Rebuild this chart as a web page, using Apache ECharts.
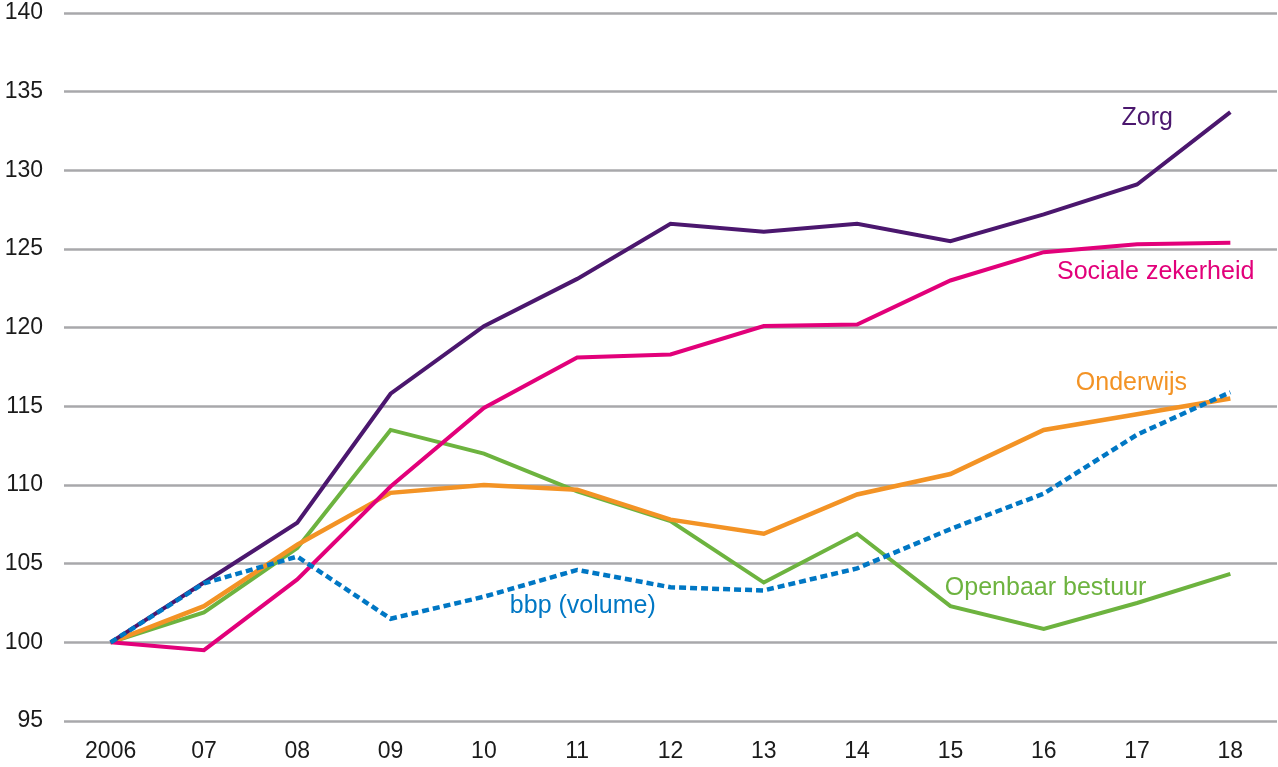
<!DOCTYPE html>
<html>
<head>
<meta charset="utf-8">
<script src="https://cdn.jsdelivr.net/npm/echarts@6/dist/echarts.min.js"></script>
<style>
html,body{margin:0;padding:0;background:#fff;}
#chart{width:1278px;height:767px;}
</style>
</head>
<body>
<div id="chart"></div>
<script>
var categories = ['2006','07','08','09','10','11','12','13','14','15','16','17','18'];
var zorg = [100,103.8,107.6,115.8,120.1,123.1,126.6,126.1,126.6,125.5,127.2,129.1,133.7];
var sociale = [100,99.5,104.0,109.9,114.9,118.1,118.3,120.1,120.2,123.0,124.8,125.3,125.4];
var onderwijs = [100,102.3,106.2,109.5,110.0,109.7,107.8,106.9,109.4,110.7,113.5,114.5,115.5];
var openbaar = [100,101.9,106.0,113.5,112.0,109.6,107.7,103.8,106.9,102.3,100.85,102.5,104.35];
var bbp = [100,103.75,105.45,101.5,102.9,104.6,103.5,103.3,104.7,107.2,109.45,113.2,115.9];
var yTicks = {min:95, max:140, interval:5};

var colors = {zorg:'#4b176e', sociale:'#e2007a', onderwijs:'#f39325', openbaar:'#6db33f', bbp:'#0077c4'};

var chart = echarts.init(document.getElementById('chart'), null, {renderer:'canvas'});
var font = '"Liberation Sans", Arial, sans-serif';
function line(name, data, color, width, dash){
  return {name:name, type:'line', data:data, symbol:'none', smooth:false,
    lineStyle:{color:color, width:width, type: dash||'solid', cap:'butt', join:'miter'},
    itemStyle:{color:color}, animation:false};
}
chart.setOption({
  animation:false,
  grid:{left:64, right:1, top:13, bottom:46},
  xAxis:{type:'category', data:categories, boundaryGap:true,
    axisLine:{show:false}, axisTick:{show:false},
    axisLabel:{color:'#1a1a1a', fontSize:23, fontFamily:font, margin:19}},
  yAxis:{type:'value', min:yTicks.min, max:yTicks.max, interval:yTicks.interval,
    axisLine:{show:false}, axisTick:{show:false},
    axisLabel:{color:'#1a1a1a', fontSize:23, fontFamily:font, margin:21},
    splitLine:{lineStyle:{color:'#a8a8ab', width:2.5}}},
  series:[
    line('Openbaar bestuur', openbaar, colors.openbaar, 4),
    line('Onderwijs', onderwijs, colors.onderwijs, 4.5),
    line('Sociale zekerheid', sociale, colors.sociale, 4),
    line('Zorg', zorg, colors.zorg, 4),
    line('bbp (volume)', bbp, colors.bbp, 4.5, [7,4])
  ]
});

// series labels anchored in data space (fractional category index, value)
var labels = [
  {text:'Zorg', color:colors.zorg, at:[11.11,133.3]},
  {text:'Sociale zekerheid', color:colors.sociale, at:[11.2,123.5]},
  {text:'Onderwijs', color:colors.onderwijs, at:[10.94,116.5]},
  {text:'Openbaar bestuur', color:colors.openbaar, at:[10.02,103.45]},
  {text:'bbp (volume)', color:colors.bbp, at:[5.06,102.3]}
];
function toPx(at){
  var i0 = Math.floor(at[0]);
  var f = at[0] - i0;
  var p0 = chart.convertToPixel({gridIndex:0}, [i0, at[1]]);
  var p1 = chart.convertToPixel({gridIndex:0}, [i0 + 1, at[1]]);
  return [p0[0] + (p1[0] - p0[0]) * f, p0[1]];
}
var g = labels.map(function(l){
  var p = toPx(l.at);
  return {type:'text', x:p[0], y:p[1], silent:true,
    style:{text:l.text, fill:l.color, font:'25px ' + font, textAlign:'center', textVerticalAlign:'middle'}};
});
chart.setOption({graphic:g});
</script>
</body>
</html>
